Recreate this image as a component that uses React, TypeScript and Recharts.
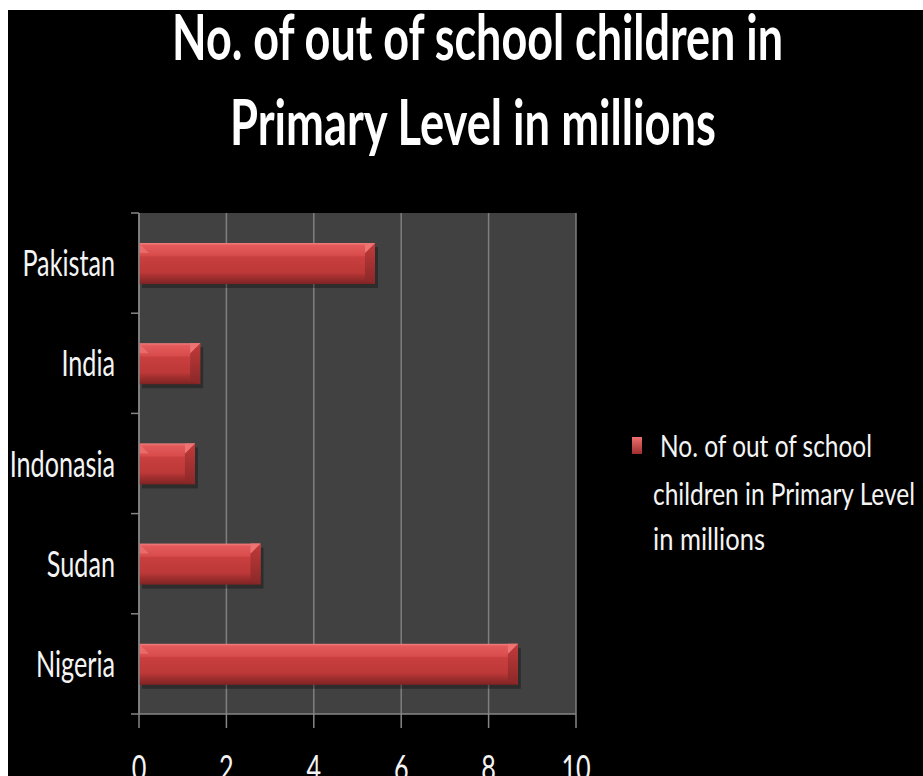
import { BarChart, Bar, XAxis, YAxis, CartesianGrid, Legend } from 'recharts'

const countries = ['Pakistan', 'India', 'Indonasia', 'Sudan', 'Nigeria']
const outOfSchool = [5.4, 1.4, 1.28, 2.78, 8.67]
const xTicks = [0, 2, 4, 6, 8, 10]
const seriesName = 'No. of out of school children in Primary Level in millions'
const titleLines = ['No. of out of school children in', 'Primary Level in millions']
const legendLines = ['No. of out of school', 'children in Primary Level', 'in millions']

const chartData = countries.map((country, i) => ({ country, value: outOfSchool[i] }))

const FONT = "Lato, 'DejaVu Sans Condensed', sans-serif"
const AXIS = '#868686'
const SQUEEZE = 0.7

// excel-ish bevelled bar
function BevelBar(props: any) {
  const { x, y, width, height } = props
  if (!width || width <= 0) return null
  const b = Math.min(10, width / 2)
  const r = x + width
  const btm = y + height
  return (
    <g>
      <rect x={x + 3} y={y + 4} width={width} height={height} fill="#000" opacity={0.3} />
      <rect x={x} y={y} width={width} height={height} fill="url(#barBody)" />
      <polygon points={`${x},${y} ${x + b},${y + b} ${x},${y + b}`} fill="#e86a6a" />
      <polygon
        points={`${r - b},${y + b} ${r},${y} ${r},${btm} ${r - b},${btm - 4}`}
        fill="url(#barEnd)"
      />
      <polygon points={`${r - b},${y + b} ${r},${y} ${r - b},${y}`} fill="#ee7474" />
    </g>
  )
}

// label + tick marks on the band edges (excel style), tickMargin = 16
function CountryTick({ x, y, payload, index, visibleTicksCount }: any) {
  const half = payload.offset ?? 0
  return (
    <g>
      <line x1={x + 16} x2={x + 24} y1={y - half} y2={y - half} stroke={AXIS} strokeWidth={1.5} />
      {index === visibleTicksCount - 1 && (
        <line x1={x + 16} x2={x + 24} y1={y + half} y2={y + half} stroke={AXIS} strokeWidth={1.5} />
      )}
      <g transform={`translate(${x},${y}) scale(${SQUEEZE},1)`}>
        <text x={0} y={13} textAnchor="end" fill="#f4f4f4" fontSize={36} fontFamily={FONT}>
          {payload.value}
        </text>
      </g>
    </g>
  )
}

function ValueTick({ x, y, payload }: any) {
  return (
    <g transform={`translate(${x},${y}) scale(${SQUEEZE},1)`}>
      <text x={0} y={0} textAnchor="middle" fill="#f4f4f4" fontSize={36} fontFamily={FONT}>
        {payload.value}
      </text>
    </g>
  )
}

function LegendBox() {
  return (
    <svg width={310} height={160}>
      <rect x={24} y={27} width={10} height={17} fill="url(#legendSwatch)" />
      <text x={52} y={47} textLength={212} lengthAdjust="spacingAndGlyphs" fill="#f4f4f4" fontSize={30} fontFamily={FONT}>
        {legendLines[0]}
      </text>
      <text x={45} y={95} textLength={262} lengthAdjust="spacingAndGlyphs" fill="#f4f4f4" fontSize={30} fontFamily={FONT}>
        {legendLines[1]}
      </text>
      <text x={45} y={140} textLength={112} lengthAdjust="spacingAndGlyphs" fill="#f4f4f4" fontSize={30} fontFamily={FONT}>
        {legendLines[2]}
      </text>
    </svg>
  )
}

export default function App() {
  return (
    <div style={{ position: 'absolute', left: 8, top: 10, width: 915, height: 766, background: '#000' }}>
      <svg width={915} height={170} style={{ position: 'absolute', left: 0, top: 0 }}>
        <text
          x={469.5}
          y={50}
          textAnchor="middle"
          textLength={611}
          lengthAdjust="spacingAndGlyphs"
          fill="#fff"
          fontSize={63}
          fontWeight="bold"
          fontFamily={FONT}
        >
          {titleLines[0]}
        </text>
        <text
          x={465}
          y={135}
          textAnchor="middle"
          textLength={486}
          lengthAdjust="spacingAndGlyphs"
          fill="#fff"
          fontSize={63}
          fontWeight="bold"
          fontFamily={FONT}
        >
          {titleLines[1]}
        </text>
      </svg>
      <BarChart
        width={915}
        height={766}
        data={chartData}
        layout="vertical"
        margin={{ top: 203, right: 347, bottom: 0, left: 0 }}
      >
        <defs>
          <linearGradient id="barBody" x1="0" y1="0" x2="0" y2="1">
            <stop offset="0" stopColor="#f28080" />
            <stop offset="0.06" stopColor="#e45a5a" />
            <stop offset="0.3" stopColor="#d84c4c" />
            <stop offset="0.34" stopColor="#c93f3f" />
            <stop offset="0.72" stopColor="#bd3838" />
            <stop offset="0.8" stopColor="#a83131" />
            <stop offset="1" stopColor="#7f2323" />
          </linearGradient>
          <linearGradient id="barEnd" x1="0" y1="0" x2="0" y2="1">
            <stop offset="0" stopColor="#c23a3a" />
            <stop offset="1" stopColor="#8a2828" />
          </linearGradient>
          <linearGradient id="legendSwatch" x1="0" y1="0" x2="0" y2="1">
            <stop offset="0" stopColor="#ee7070" />
            <stop offset="1" stopColor="#a02e2e" />
          </linearGradient>
        </defs>
        <CartesianGrid horizontal={false} stroke="#7f7f7f" strokeWidth={1.5} fill="#414141" />
        <XAxis
          type="number"
          domain={[0, 10]}
          ticks={xTicks}
          height={62}
          tickSize={14}
          tickMargin={53}
          stroke={AXIS}
          strokeWidth={1.5}
          tick={<ValueTick />}
          interval={0}
        />
        <YAxis
          type="category"
          dataKey="country"
          width={131}
          tickSize={8}
          tickMargin={16}
          tickLine={false}
          stroke={AXIS}
          strokeWidth={1.5}
          tick={<CountryTick />}
          interval={0}
        />
        <Bar
          dataKey="value"
          name={seriesName}
          barSize={41}
          fill="#c63d3d"
          shape={<BevelBar />}
          isAnimationActive={false}
        />
        <Legend
          layout="horizontal"
          verticalAlign="middle"
          align="center"
          content={<LegendBox />}
          wrapperStyle={{ left: 600, top: 400, width: 310, height: 160 }}
        />
      </BarChart>
    </div>
  )
}
